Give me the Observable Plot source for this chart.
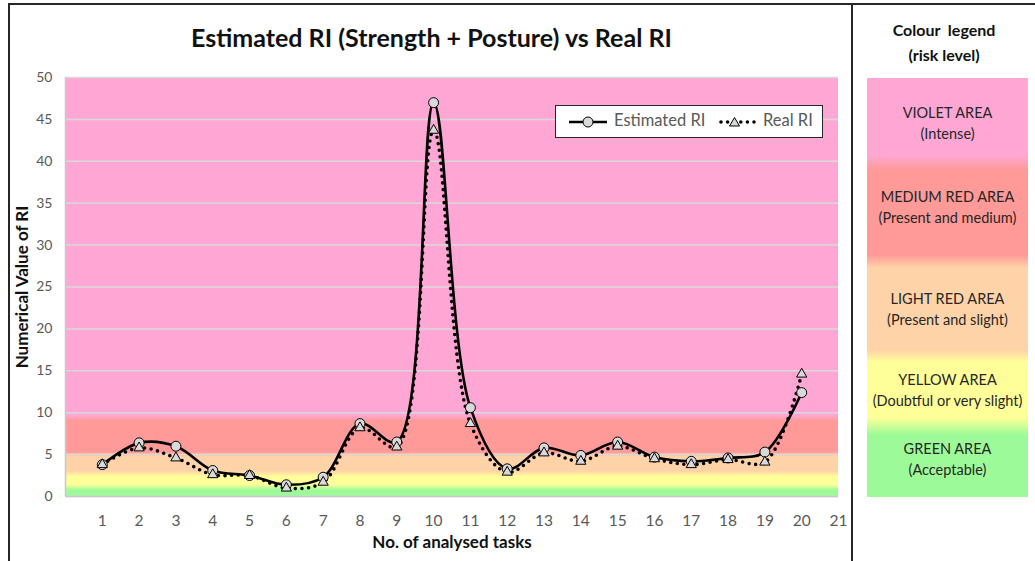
<!DOCTYPE html>
<html>
<head>
<meta charset="utf-8">
<script src="https://cdn.jsdelivr.net/npm/d3@7"></script>
<script src="https://cdn.jsdelivr.net/npm/@observablehq/plot@0.6"></script>
<style>
  body { margin: 0; background: #fff; font-family: Lato, "Open Sans", sans-serif; }
  #wrap { position: relative; width: 1035px; height: 561px; overflow: hidden; background: #fff; }
  .bline { position: absolute; background: #262626; }
  #title { position: absolute; left: 10px; width: 843px; top: 22px; text-align: center;
           font-weight: bold; font-size: 25px; color: #111; white-space: nowrap; }
  #chart { position: absolute; left: 10px; top: 65px; }
  #chart svg { overflow: visible; }
  #legendIn { position: absolute; left: 555px; top: 105px; width: 266px; height: 31px;
              border: 1.5px solid #262626; background: #fff; font-size: 16.5px; color: #595959; }
  #legendIn svg { position: absolute; left: 0; top: 0; }
  #legendIn span { position: absolute; top: 4px; white-space: nowrap; }
  #lpTitle { position: absolute; left: 853px; width: 182px; top: 17px; text-align: center;
             font-weight: bold; font-size: 16px; line-height: 25px; color: #111; }
  #lpBox { position: absolute; left: 867px; top: 78px; width: 161px; height: 419px; }
  .lpText { position: absolute; left: 853px; width: 189px; text-align: center; font-size: 14.5px;
            line-height: 20.5px; color: #262626; white-space: nowrap; }
</style>
</head>
<body>
<div id="wrap">
  <div class="bline" style="left:8px;top:3px;width:1027px;height:2px"></div>
  <div class="bline" style="left:8px;top:3px;width:2px;height:558px"></div>
  <div class="bline" style="left:851px;top:3px;width:2px;height:558px"></div>
  <div id="title"></div>
  <div id="chart"></div>
  <div id="legendIn"></div>
  <div id="lpTitle"></div>
  <div id="lpBox"></div>
</div>
<script>
// ---------- data ----------
const titleText = "Estimated RI (Strength + Posture) vs Real RI";
const xTitle = "No. of analysed tasks";
const yTitle = "Numerical Value of RI";
const seriesNames = ["Estimated RI", "Real RI"];
const tasks = [1, 2, 3, 4, 5, 6, 7, 8, 9, 10, 11, 12, 13, 14, 15, 16, 17, 18, 19, 20];
const estimatedRI = [3.8, 6.4, 6.0, 3.1, 2.5, 1.4, 2.3, 8.7, 6.5, 47.0, 10.6, 3.3, 5.8, 4.9, 6.5, 4.7, 4.2, 4.6, 5.3, 12.4];
const realRI      = [3.8, 5.8, 4.6, 2.6, 2.5, 1.0, 1.7, 8.2, 5.9, 43.7, 8.7, 2.9, 5.2, 4.2, 6.0, 4.5, 3.8, 4.4, 4.1, 14.6];
const xTicks = [1, 2, 3, 4, 5, 6, 7, 8, 9, 10, 11, 12, 13, 14, 15, 16, 17, 18, 19, 20, 21];
const yTicks = [0, 5, 10, 15, 20, 25, 30, 35, 40, 45, 50];

// risk zones (colour legend)
const zoneNames  = ["VIOLET AREA", "MEDIUM RED AREA", "LIGHT RED AREA", "YELLOW AREA", "GREEN AREA"];
const zoneDescs  = ["(Intense)", "(Present and medium)", "(Present and slight)", "(Doubtful or very slight)", "(Acceptable)"];
const zoneColors = ["#ffa7d4", "#ff9a98", "#ffd3a8", "#ffff9a", "#9cfb98"];
// background stops in the chart: [RI value, zone index]
const bgStops = [[50, 0], [9.6, 0], [9.0, 1], [5.3, 1], [4.7, 2], [3.0, 2], [2.3, 3], [1.4, 3], [0.7, 4], [0, 4]];

// ---------- chart ----------
const estData = tasks.map((t, i) => ({task: t, value: estimatedRI[i]}));
const realData = tasks.map((t, i) => ({task: t, value: realRI[i]}));
const ink = "#111";

document.getElementById("title").textContent = titleText;

const chart = Plot.plot({
  width: 843,
  height: 496,
  marginTop: 12,
  marginBottom: 65,
  marginLeft: 55,
  marginRight: 15,
  style: {fontFamily: "Lato, 'Open Sans', sans-serif", background: "transparent"},
  x: {domain: [0, 21]},
  y: {domain: [0, 50]},
  marks: [
    Plot.rect([{a: 0, b: 21, c: 0, d: 50}], {x1: "a", x2: "b", y1: "c", y2: "d", fill: "url(#riskBg)"}),
    Plot.gridY(yTicks, {stroke: "#d9d9d9", strokeOpacity: 1, strokeWidth: 1.5}),
    Plot.ruleX([0], {stroke: "#c8c8c8", strokeWidth: 1.5}),
    Plot.ruleY([0], {stroke: "#c8c8c8", strokeWidth: 1.5}),
    Plot.axisX(xTicks, {tickSize: 0, tickPadding: 18, fontSize: 15.5, fill: "#595959", label: null}),
    Plot.axisY(yTicks, {tickSize: 0, tickPadding: 13, fontSize: 14, fill: "#595959", label: null}),
    Plot.text([xTitle], {frameAnchor: "bottom", dy: 51, fontSize: 17, fontWeight: "bold", fill: ink}),
    Plot.text([yTitle], {frameAnchor: "left", textAnchor: "middle", rotate: -90, dx: -43, fontSize: 17, fontWeight: "bold", fill: ink}),
    Plot.line(realData, {x: "task", y: "value", curve: "catmull-rom", stroke: "#000", strokeWidth: 3.6,
                         strokeDasharray: "0 6.6", strokeLinecap: "round"}),
    Plot.line(estData, {x: "task", y: "value", curve: "catmull-rom", stroke: "#000", strokeWidth: 2.6}),
    Plot.dot(estData, {x: "task", y: "value", symbol: "circle", r: 5, fill: "#d9d9d9", stroke: "#000", strokeWidth: 1}),
    Plot.dot(realData, {x: "task", y: "value", symbol: "triangle", r: 3.8, fill: "#d9d9d9", stroke: "#000", strokeWidth: 1})
  ]
});

// gradient background definition built from the zone stops
const defs = d3.select(chart).insert("defs", ":first-child");
const grad = defs.append("linearGradient").attr("id", "riskBg")
  .attr("x1", 0).attr("y1", 0).attr("x2", 0).attr("y2", 1);
bgStops.forEach(([v, z]) => {
  grad.append("stop").attr("offset", (1 - v / 50)).attr("stop-color", zoneColors[z]);
});
document.getElementById("chart").appendChild(chart);

// ---------- in-chart legend ----------
const legendIn = document.getElementById("legendIn");
legendIn.innerHTML = `
<svg width="266" height="31">
  <line x1="13" y1="16" x2="51" y2="16" stroke="#000" stroke-width="2.6"/>
  <circle cx="32" cy="16" r="5" fill="#d9d9d9" stroke="#000" stroke-width="1"/>
  <line x1="165" y1="16" x2="198" y2="16" stroke="#000" stroke-width="3.6" stroke-dasharray="0 6.6" stroke-linecap="round"/>
  <path d="M178.5,11.5 L183.5,20 L173.5,20 Z" fill="#d9d9d9" stroke="#000" stroke-width="1"/>
</svg>
<span style="left:58px">${seriesNames[0]}</span>
<span style="left:207px">${seriesNames[1]}</span>`;

// ---------- colour legend panel ----------
document.getElementById("lpTitle").innerHTML = "Colour&nbsp; legend<br>(risk level)";
const boxStops = [[0, 0], [18.4, 0], [22, 1], [42.2, 1], [45.3, 2], [64.9, 2], [67.8, 3], [81.1, 3], [85.2, 4], [100, 4]];
document.getElementById("lpBox").style.background =
  "linear-gradient(to bottom, " + boxStops.map(([p, z]) => `${zoneColors[z]} ${p}%`).join(", ") + ")";
const zoneTextTop = [103, 187, 289, 370, 439];
const wrap = document.getElementById("wrap");
zoneNames.forEach((n, i) => {
  const d = document.createElement("div");
  d.className = "lpText";
  d.style.top = zoneTextTop[i] + "px";
  d.innerHTML = `${n}<br>${zoneDescs[i]}`;
  wrap.appendChild(d);
});
</script>
</body>
</html>
